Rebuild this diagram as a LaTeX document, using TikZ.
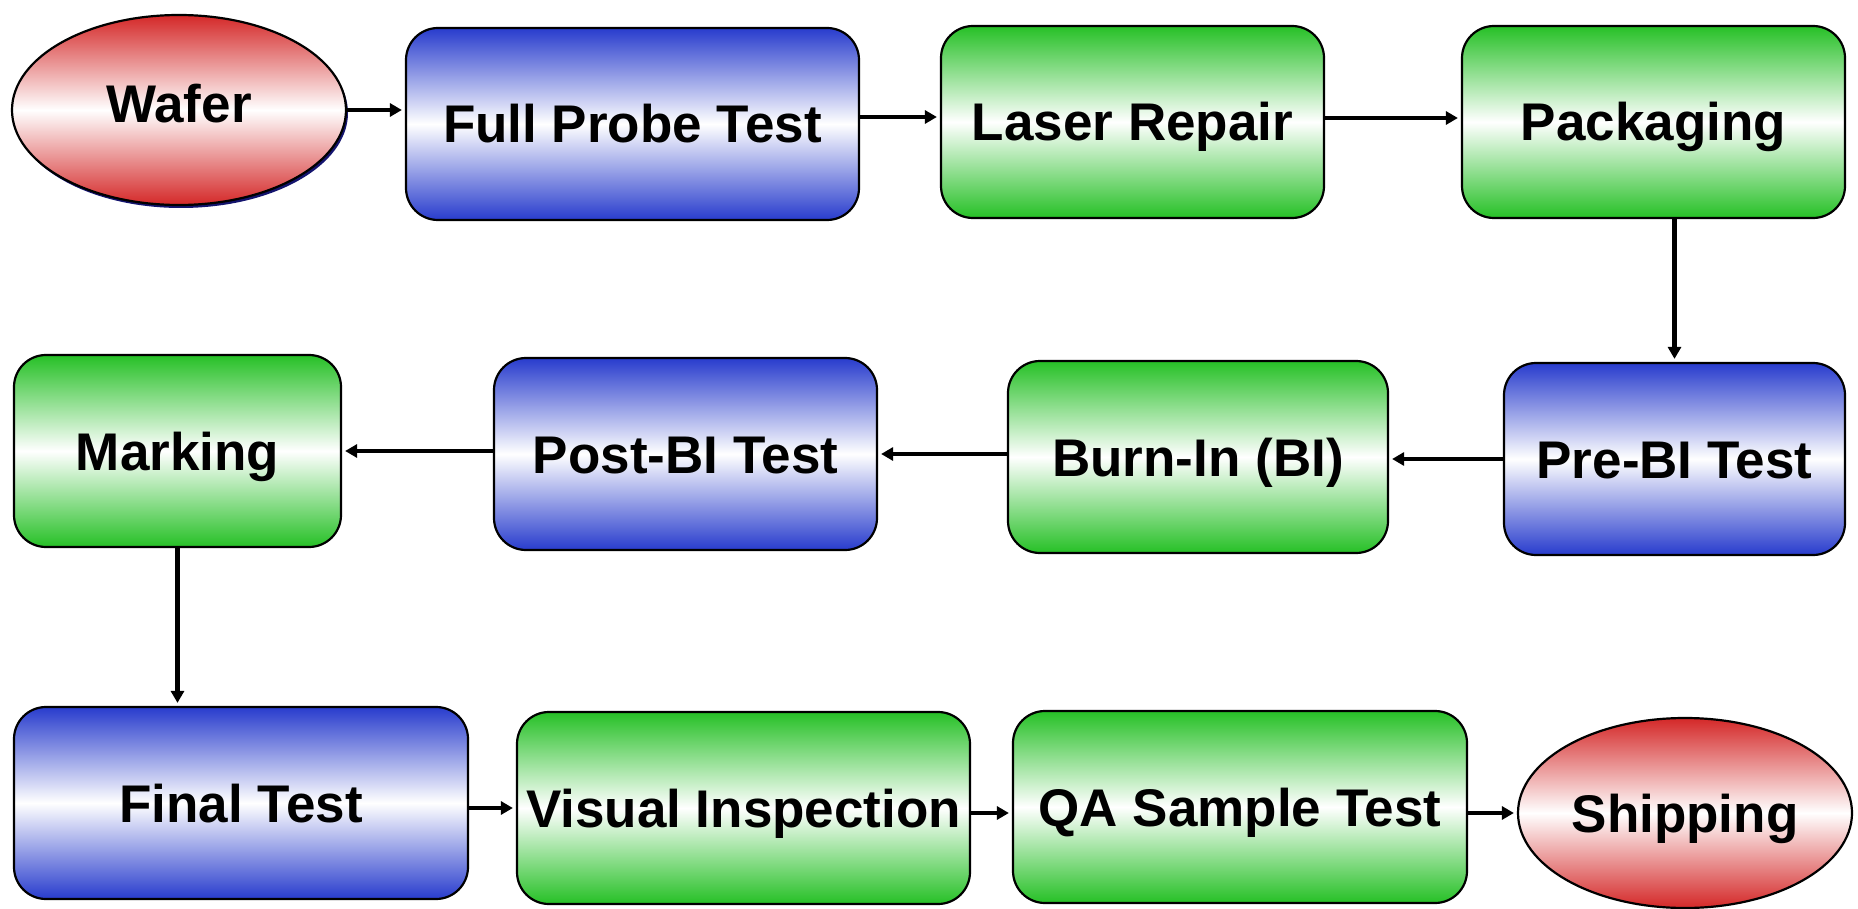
\documentclass[tikz,border=0pt]{standalone}
\usepackage{fontspec}
\setmainfont{Liberation Sans}
\usetikzlibrary{arrows.meta,shapes.geometric,shadows}
\definecolor{stepblue}{RGB}{40,60,205}
\definecolor{stepgreen}{RGB}{38,192,38}
\definecolor{stepred}{RGB}{212,40,40}
\definecolor{shadownavy}{RGB}{20,20,110}
\begin{document}
\begin{tikzpicture}[x=1pt,y=-1pt,
  every node/.style={inner sep=0pt,font=\fontsize{53}{60}\selectfont\bfseries,
    text height=38pt,text depth=0pt},
  box/.style={draw=black,line width=2.2pt,rounded corners=32pt,minimum height=192pt},
  bluebox/.style={box,top color=stepblue,bottom color=stepblue,middle color=white},
  greenbox/.style={box,top color=stepgreen,bottom color=stepgreen,middle color=white},
  endpoint/.style={ellipse,draw=black,line width=2.2pt,minimum width=334pt,minimum height=190pt,
    top color=stepred,bottom color=stepred,middle color=white},
  arr/.style={line width=4.2pt,-{Triangle[length=12pt,width=13pt]},shorten >=3pt}]
\useasboundingbox (0,0) rectangle (1858,909);

% first row
\node[endpoint,drop shadow={shadow xshift=2pt,shadow yshift=-3pt,fill=shadownavy,opacity=1}]
  (wafer) at (179,110) {\raisebox{6pt}{Wafer}};
\node[bluebox,minimum width=453pt] (fpt) at (632.5,124) {Full Probe Test};
\node[greenbox,minimum width=383pt] (laser) at (1132.5,122) {Laser Repair};
\node[greenbox,minimum width=383pt] (pack) at (1653.5,122) {Packaging};

% second row
\node[bluebox,minimum width=341pt] (prebi) at (1674.5,459) {Pre-BI Test};
\node[greenbox,minimum width=380pt] (burn) at (1198,457) {Burn-In (BI)};
\node[bluebox,minimum width=383pt] (postbi) at (685.5,454) {Post-BI Test};
\node[greenbox,minimum width=327pt] (mark) at (177.5,451) {Marking};

% third row
\node[bluebox,minimum width=454pt] (final) at (241,803) {Final Test};
\node[greenbox,minimum width=453pt] (visual) at (743.5,808) {Visual Inspection};
\node[greenbox,minimum width=454pt] (qa) at (1240,807) {QA Sample Test};
\node[endpoint] (ship) at (1685,813) {Shipping};

% flow
\draw[arr] (wafer.east) -- (wafer.east -| fpt.west);
\draw[arr] ([yshift=7pt]fpt.east) -- ([yshift=7pt]fpt.east -| laser.west);
\draw[arr] ([yshift=4pt]laser.east) -- ([yshift=4pt]laser.east -| pack.west);
\draw[arr] (prebi.north |- pack.south) -- (prebi.north);
\draw[arr] (prebi.west) -- (prebi.west -| burn.east);
\draw[arr] ([yshift=3pt]burn.west) -- ([yshift=3pt]burn.west -| postbi.east);
\draw[arr] ([yshift=3pt]postbi.west) -- ([yshift=3pt]postbi.west -| mark.east);
\draw[arr] (mark.south) -- (mark.south |- final.north);
\draw[arr] (visual.west -| final.east) -- (visual.west);
\draw[arr] (ship.west -| visual.east) -- (ship.west -| qa.west);
\draw[arr] (ship.west -| qa.east) -- (ship.west);
\end{tikzpicture}
\end{document}
